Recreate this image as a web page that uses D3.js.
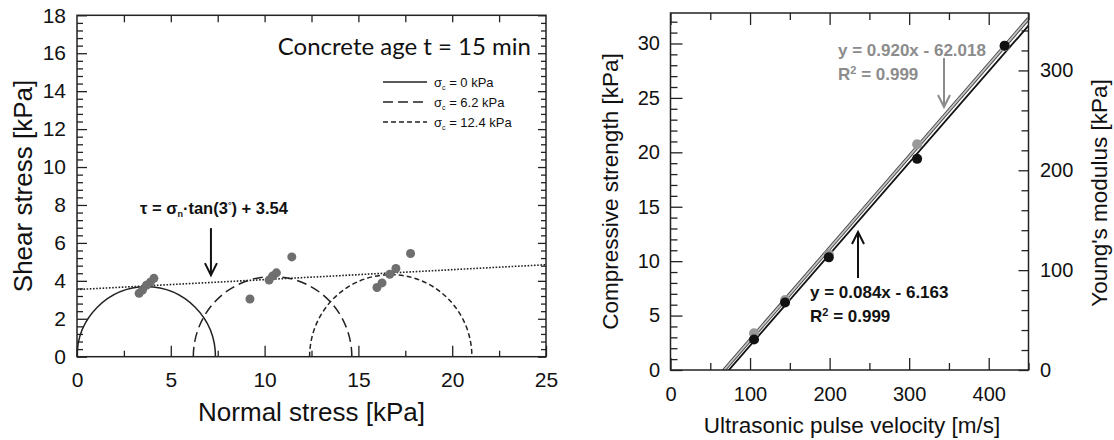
<!DOCTYPE html>
<html>
<head>
<meta charset="utf-8">
<script src="https://cdnjs.cloudflare.com/ajax/libs/d3/7.8.5/d3.min.js"></script>
<style>
  body { margin: 0; background: #fff; }
  text { font-family: "Liberation Sans", Arial, sans-serif; fill: #111; }
</style>
</head>
<body>
<svg width="1114" height="440"></svg>
<script>
// ================= DATA ================= //
// left chart : Mohr circles, concrete age 15 min
const confiningStress = [0, 6.2, 12.4];          // sigma_c [kPa], left end of each circle
const majorStress = [7.38, 14.65, 21.05];        // right end of each circle
const legendLabels = ["0 kPa", "6.2 kPa", "12.4 kPa"];
const normalStress = [3.31, 3.49, 3.70, 3.91, 4.10, 9.22, 10.24, 10.42, 10.63, 11.45, 15.99, 16.26, 16.67, 17.0, 17.78];
const shearStress  = [3.34, 3.51, 3.77, 3.93, 4.13, 3.04, 4.04, 4.25, 4.42, 5.26, 3.65, 3.89, 4.35, 4.65, 5.44];
const frictionAngle = 3;      // deg
const cohesion = 3.54;        // kPa
const normalTicks = [0, 5, 10, 15, 20, 25];
const shearTicks = [0, 2, 4, 6, 8, 10, 12, 14, 16, 18];

// right chart : strength / modulus vs ultrasonic velocity
const velocity = [105, 144, 199, 310, 420];
const strength = [2.8, 6.2, 10.35, 19.4, 29.8];
const modulus  = [36.8, 70, 116, 226, 324];
const strengthFit = [0.084, -6.163];
const modulusFit  = [0.920, -62.018];
const velocityTicks = [0, 100, 200, 300, 400];
const strengthTicks = [0, 5, 10, 15, 20, 25, 30];
const modulusTicks  = [0, 100, 200, 300];

// ================= SETUP ================= //
const svg = d3.select("svg");
const ink = "#222";

// left chart scales
const xL = d3.scaleLinear().domain([0, 25]).range([77, 546]);
const yL = d3.scaleLinear().domain([0, 18]).range([356.7, 15.3]);
// right chart scales
const xR = d3.scaleLinear().domain([0, 450]).range([670.5, 1028.5]);
const yS = d3.scaleLinear().domain([0, 32.8]).range([370, 13]);
const yE = d3.scaleLinear().domain([0, 357.5]).range([370, 13]);

// axis helper : ticks drawn inward, major ticks labelled
function drawAxis(axisFn, scale, pos, major, minor, majLen, minLen, pad, fontSize, labels) {
  const gMin = svg.append("g").attr("transform", pos)
    .call(axisFn(scale).tickValues(minor).tickSizeInner(-minLen).tickSizeOuter(0).tickFormat(""));
  const gMaj = svg.append("g").attr("transform", pos)
    .call(axisFn(scale).tickValues(major).tickSizeInner(-majLen).tickSizeOuter(0).tickPadding(pad)
      .tickFormat(labels ? d3.format("d") : ""));
  [gMin, gMaj].forEach(g => {
    g.select(".domain").remove();
    g.selectAll("line").attr("stroke", ink).attr("stroke-width", 1.3);
    g.selectAll("text").attr("font-size", fontSize).attr("fill", "#111")
      .style("font-family", '"Liberation Sans", Arial, sans-serif');
  });
}

// ================= LEFT CHART ================= //
const yL0 = yL(0), xL0 = xL(0), xL1 = xL(25), yL1 = yL(18);
const shearMinor = d3.range(0.4, 18, 0.4).filter(v => Math.abs(v / 2 - Math.round(v / 2)) > 0.01);

drawAxis(d3.axisBottom, xL, `translate(0,${yL0})`, normalTicks, d3.range(2.5, 25, 5), 11, 6, 15, 21, true);
drawAxis(d3.axisTop, xL, `translate(0,${yL1})`, d3.range(2.5, 25, 2.5), [], 7, 0, 0, 21, false);
drawAxis(d3.axisLeft, yL, `translate(${xL0},0)`, shearTicks, shearMinor, 10, 6, 11, 21, true);
drawAxis(d3.axisRight, yL, `translate(${xL1},0)`, shearTicks, shearMinor, 8, 5, 0, 21, false);

svg.append("rect")
  .attr("x", xL0).attr("y", yL1).attr("width", xL1 - xL0).attr("height", yL0 - yL1)
  .attr("fill", "none").attr("stroke", ink).attr("stroke-width", 1.5);

// Mohr circles (upper halves)
const circleDash = ["none", "10,5", "5,3"];
svg.append("g").selectAll("path")
  .data(confiningStress)
  .join("path")
  .attr("d", (s3, i) => {
    const s1 = majorStress[i];
    const rx = (xL(s1) - xL(s3)) / 2;
    const ry = (yL(0) - yL((s1 - s3) / 2));
    return `M${xL(s3)},${yL(0)} A${rx},${ry} 0 0 1 ${xL(s1)},${yL(0)}`;
  })
  .attr("fill", "none")
  .attr("stroke", "#222")
  .attr("stroke-width", 1.5)
  .attr("stroke-dasharray", (d, i) => circleDash[i]);

// failure envelope
const tanPhi = Math.tan(frictionAngle * Math.PI / 180);
svg.append("line")
  .attr("x1", xL(0)).attr("y1", yL(cohesion))
  .attr("x2", xL(25)).attr("y2", yL(cohesion + 25 * tanPhi))
  .attr("stroke", "#222").attr("stroke-width", 1.6)
  .attr("stroke-dasharray", "1.6,1.6");

// measured points
svg.append("g").selectAll("circle")
  .data(normalStress)
  .join("circle")
  .attr("cx", d => xL(d))
  .attr("cy", (d, i) => yL(shearStress[i]))
  .attr("r", 4.5)
  .attr("fill", "#6f6f6f");

// title
svg.append("text")
  .attr("x", xL(25) - 15).attr("y", 55)
  .attr("text-anchor", "end")
  .attr("font-size", 24)
  .style("font-family", "Lato, 'Open Sans', sans-serif")
  .text("Concrete age t = 15 min");

// legend
const legend = svg.append("g");
legendLabels.forEach((lab, i) => {
  const y = 82 + i * 20;
  legend.append("line")
    .attr("x1", 383).attr("x2", 427).attr("y1", y).attr("y2", y)
    .attr("stroke", "#222").attr("stroke-width", 1.3)
    .attr("stroke-dasharray", circleDash[i]);
  const t = legend.append("text")
    .attr("x", 434).attr("y", y + 4.5)
    .attr("font-size", 13);
  t.append("tspan").text("σ");
  t.append("tspan").attr("font-size", 7).attr("dy", 3).text("c");
  t.append("tspan").attr("dy", -3).text(" = " + lab);
});

// envelope equation + arrow
const eq = svg.append("text")
  .attr("x", xL(7.3)).attr("y", yL(7.55))
  .attr("text-anchor", "middle")
  .attr("font-size", 16.5).attr("font-weight", "bold");
eq.append("tspan").text("τ = σ");
eq.append("tspan").attr("font-size", 9).attr("dy", 3).text("n");
eq.append("tspan").attr("dy", -3).text("·tan(3");
eq.append("tspan").attr("font-size", 9).attr("dy", -6).text("°");
eq.append("tspan").attr("dy", 6).text(") + 3.54");

function arrow(x, y0, y1, color, width) {
  const dir = y1 > y0 ? 1 : -1;
  svg.append("line").attr("x1", x).attr("x2", x).attr("y1", y0).attr("y2", y1)
    .attr("stroke", color).attr("stroke-width", width);
  svg.append("path")
    .attr("d", `M${x - 6},${y1 - dir * 12} L${x},${y1} L${x + 6},${y1 - dir * 12}`)
    .attr("fill", "none").attr("stroke", color).attr("stroke-width", width);
}
arrow(xL(7.14), yL(6.78), yL(4.3), "#111", 2);

// axis titles
svg.append("text")
  .attr("transform", `translate(32,${(yL0 + yL1) / 2}) rotate(-90)`)
  .attr("text-anchor", "middle").attr("font-size", 26)
  .text("Shear stress [kPa]");
svg.append("text")
  .attr("x", (xL0 + xL1) / 2).attr("y", 421)
  .attr("text-anchor", "middle").attr("font-size", 26)
  .text("Normal stress [kPa]");

// ================= RIGHT CHART ================= //
const yR0 = yS(0), yR1 = yS(32.8), xR0 = xR(0), xR1 = xR(450);

drawAxis(d3.axisBottom, xR, `translate(0,${yR0})`, velocityTicks, d3.range(50, 451, 100), 12, 7, 16.5, 20, true);
drawAxis(d3.axisTop, xR, `translate(0,${yR1})`, velocityTicks, d3.range(50, 451, 100), 12, 7, 0, 20, false);
drawAxis(d3.axisLeft, yS, `translate(${xR0},0)`, strengthTicks, d3.range(1, 33, 1).filter(v => v % 5 !== 0), 12, 7, 10.5, 20, true);
drawAxis(d3.axisRight, yE, `translate(${xR1},0)`, modulusTicks, d3.range(20, 357, 20).filter(v => v % 100 !== 0), 10, 7, 11.5, 20, true);

svg.append("defs").append("clipPath").attr("id", "clipR")
  .append("rect").attr("x", xR0).attr("y", yR1).attr("width", xR1 - xR0).attr("height", yR0 - yR1);

const fitG = svg.append("g").attr("clip-path", "url(#clipR)");
// modulus fit line (grey, outlined)
const eLine = [[0, modulusFit[1]], [450, modulusFit[0] * 450 + modulusFit[1]]];
const sLine = [[0, strengthFit[1]], [450, strengthFit[0] * 450 + strengthFit[1]]];
const lineE = d3.line().x(d => xR(d[0])).y(d => yE(d[1]));
const lineS = d3.line().x(d => xR(d[0])).y(d => yS(d[1]));
fitG.append("path").attr("d", lineE(eLine)).attr("stroke", "#444").attr("stroke-width", 3.6).attr("fill", "none");
fitG.append("path").attr("d", lineE(eLine)).attr("stroke", "#c4c4c4").attr("stroke-width", 1.8).attr("fill", "none");
fitG.append("path").attr("d", lineS(sLine)).attr("stroke", "#111").attr("stroke-width", 1.8).attr("fill", "none");

svg.append("rect")
  .attr("x", xR0).attr("y", yR1).attr("width", xR1 - xR0).attr("height", yR0 - yR1)
  .attr("fill", "none").attr("stroke", ink).attr("stroke-width", 1.5);

svg.append("g").selectAll("circle")
  .data(velocity)
  .join("circle")
  .attr("cx", d => xR(d)).attr("cy", (d, i) => yE(modulus[i]))
  .attr("r", 5).attr("fill", "#999");
svg.append("g").selectAll("circle")
  .data(velocity)
  .join("circle")
  .attr("cx", d => xR(d)).attr("cy", (d, i) => yS(strength[i]))
  .attr("r", 5).attr("fill", "#111");

// fit equations
const grey = "#8c8c8c";
svg.append("text").attr("x", 838).attr("y", yE(314)).attr("font-size", 17).attr("font-weight", "bold")
  .style("fill", grey).text("y = 0.920x - 62.018");
const r2g = svg.append("text").attr("x", 838).attr("y", yE(290)).attr("font-size", 17).attr("font-weight", "bold").style("fill", grey);
r2g.append("tspan").text("R");
r2g.append("tspan").attr("font-size", 11).attr("dy", -6).text("2");
r2g.append("tspan").attr("dy", 6).text(" = 0.999");
arrow(xR(343.8), yE(312.4), yE(263.4), grey, 2);

svg.append("text").attr("x", 810).attr("y", yS(6.6)).attr("font-size", 17).attr("font-weight", "bold")
  .text("y = 0.084x - 6.163");
const r2b = svg.append("text").attr("x", 810).attr("y", yS(4.4)).attr("font-size", 17).attr("font-weight", "bold");
r2b.append("tspan").text("R");
r2b.append("tspan").attr("font-size", 11).attr("dy", -6).text("2");
r2b.append("tspan").attr("dy", 6).text(" = 0.999");
arrow(xR(235.7), yS(8.45), yS(12.68), "#111", 2);

// axis titles
svg.append("text")
  .attr("transform", `translate(618,${(yR0 + yR1) / 2}) rotate(-90)`)
  .attr("text-anchor", "middle").attr("font-size", 22.5)
  .text("Compressive strength [kPa]");
svg.append("text")
  .attr("transform", `translate(1107,193) rotate(-90)`)
  .attr("text-anchor", "middle").attr("font-size", 22.5)
  .text("Young's modulus [kPa]");
svg.append("text")
  .attr("x", 852).attr("y", 433)
  .attr("text-anchor", "middle").attr("font-size", 22.5)
  .text("Ultrasonic pulse velocity [m/s]");
</script>
</body>
</html>
